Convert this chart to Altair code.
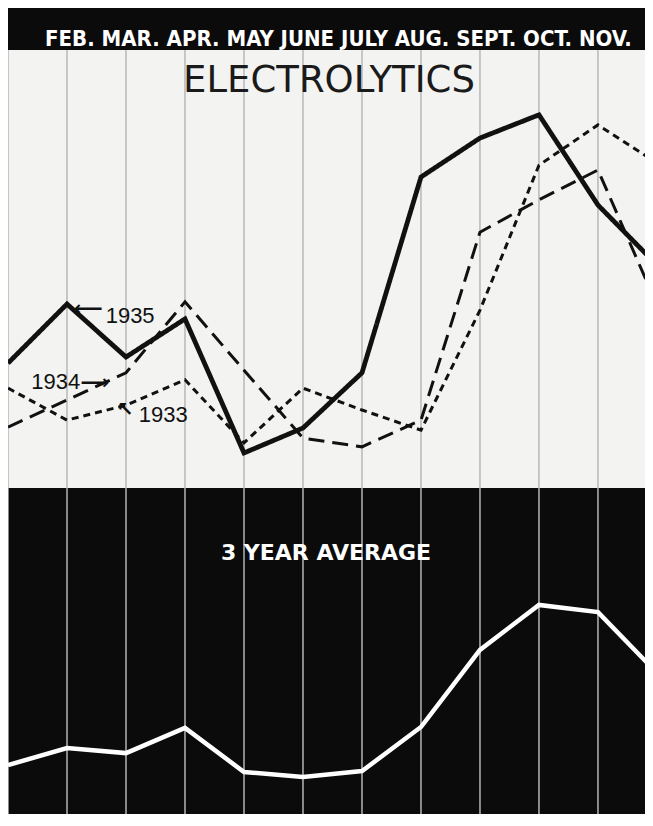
import altair as alt
import pandas as pd

# ---- data ----
months = ["JAN", "FEB", "MAR", "APR", "MAY", "JUNE", "JULY", "AUG", "SEPT", "OCT", "NOV", "DEC"]
header_labels = ["FEB.", "MAR.", "APR.", "MAY", "JUNE", "JULY", "AUG.", "SEPT.", "OCT.", "NOV."]

s1935 = [28.5, 42.0, 29.9, 38.6, 8.0, 13.7, 26.3, 71.0, 79.9, 85.2, 64.6, 50.9]
s1934 = [13.9, 20.1, 26.3, 42.5, 26.9, 11.4, 9.4, 15.5, 58.4, 65.8, 72.6, 41.8]
s1933 = [22.8, 15.5, 18.9, 24.7, 10.3, 22.8, 17.8, 13.2, 40.6, 73.7, 82.9, 74.2]
avg3 = [20.3, 26.0, 24.3, 32.7, 18.0, 16.3, 18.3, 33.0, 58.7, 73.7, 71.3, 51.0]

ann_text = ["1935", "1934", "1933"]
ann_month = [2.07, 0.81, 2.63]
ann_value = [39.3, 24.2, 16.7]
arrow_glyph = ["\u27f5", "\u27f6", "\u2196"]
arrow_month = [1.36, 1.47, 1.98]
arrow_value = [40.9, 24.0, 17.8]

# ---- tables ----
idx = list(range(len(months)))
grid_df = pd.DataFrame({"m": idx, "month": months})
long_df = pd.concat([
    pd.DataFrame({"m": idx, "month": months, "year": "1935", "v": s1935}),
    pd.DataFrame({"m": idx, "month": months, "year": "1934", "v": s1934}),
    pd.DataFrame({"m": idx, "month": months, "year": "1933", "v": s1933}),
])
avg_df = pd.DataFrame({"m": idx, "month": months, "v": avg3})
ann_df = pd.DataFrame({"t": ann_text, "m": ann_month, "v": ann_value})
arr_df = pd.DataFrame({"t": arrow_glyph, "m": arrow_month, "v": arrow_value})

W = 637
xscale = alt.Scale(domain=[0, 10.797], nice=False, zero=False)
X = alt.X("m:Q", scale=xscale, axis=None)

BLACK = "#0b0b0b"
PAPER = "#f3f3f1"

# ---- header strip ----
header = alt.Chart(pd.DataFrame({"t": [" ".join(header_labels)]})).mark_text(
    align="left", baseline="alphabetic",
    font="Liberation Sans Narrow, Arial Narrow, DejaVu Sans Condensed, sans-serif",
    fontSize=22, fontWeight="bold", color="white"
).encode(
    x=alt.value(37), y=alt.value(38), text="t:N"
).properties(width=W, height=42, view=alt.ViewBackground(fill=BLACK, stroke=None))

# ---- upper panel ----
ytop = alt.Y("v:Q", scale=alt.Scale(domain=[0, 100], nice=False, zero=False), axis=None)

grid_top = alt.Chart(grid_df).mark_rule(color="#9a9a9a", strokeWidth=1, clip=True).encode(x=X)

def series(year, dash, width):
    return alt.Chart(long_df).transform_filter(
        alt.datum.year == year
    ).mark_line(color="#111111", strokeWidth=width, strokeDash=dash, clip=True,
                strokeJoin="miter").encode(x=X, y=ytop, order="m:Q")

l1933 = series("1933", [7, 5], 3)
l1934 = series("1934", [16, 8], 3)
l1935 = series("1935", [1, 0], 4.8)

title_top = alt.Chart(pd.DataFrame({"t": ["ELECTROLYTICS"]})).mark_text(
    align="center", baseline="alphabetic", font="DejaVu Sans", fontSize=37,
    fontWeight="normal", color="#1a1a1a"
).encode(x=alt.value(321), y=alt.value(42), text="t:N")

ann = alt.Chart(ann_df).mark_text(
    font="Liberation Sans", fontSize=22, color="#111111", baseline="middle"
).encode(x=X, y=ytop, text="t:N")

arrows = alt.Chart(arr_df).mark_text(
    font="DejaVu Sans", fontSize=20, fontWeight="bold", color="#111111", baseline="middle"
).encode(x=X, y=ytop, text="t:N")

top = alt.layer(grid_top, l1933, l1934, l1935, title_top, ann, arrows).properties(
    width=W, height=438, view=alt.ViewBackground(fill=PAPER, stroke=None)
)

# ---- lower panel ----
ybot = alt.Y("v:Q", scale=alt.Scale(domain=[4, 112.67], nice=False, zero=False), axis=None)
grid_bot = alt.Chart(grid_df).mark_rule(color="#cfcfcf", strokeWidth=1.3, clip=True).encode(x=X)
avg_line = alt.Chart(avg_df).mark_line(color="white", strokeWidth=4.5, clip=True).encode(
    x=X, y=ybot, order="m:Q")
title_bot = alt.Chart(pd.DataFrame({"t": ["3 YEAR AVERAGE"]})).mark_text(
    align="center", baseline="alphabetic", font="DejaVu Sans", fontSize=22,
    fontWeight="bold", color="white"
).encode(x=alt.value(318), y=alt.value(72), text="t:N")

bottom = alt.layer(grid_bot, avg_line, title_bot).properties(
    width=W, height=326, view=alt.ViewBackground(fill=BLACK, stroke=None)
)

chart = alt.vconcat(header, top, bottom, spacing=0).properties(
    padding=0, background="white"
).configure_view(stroke=None)

chart.save("out.html", embed_options={"renderer": "svg", "actions": False})
